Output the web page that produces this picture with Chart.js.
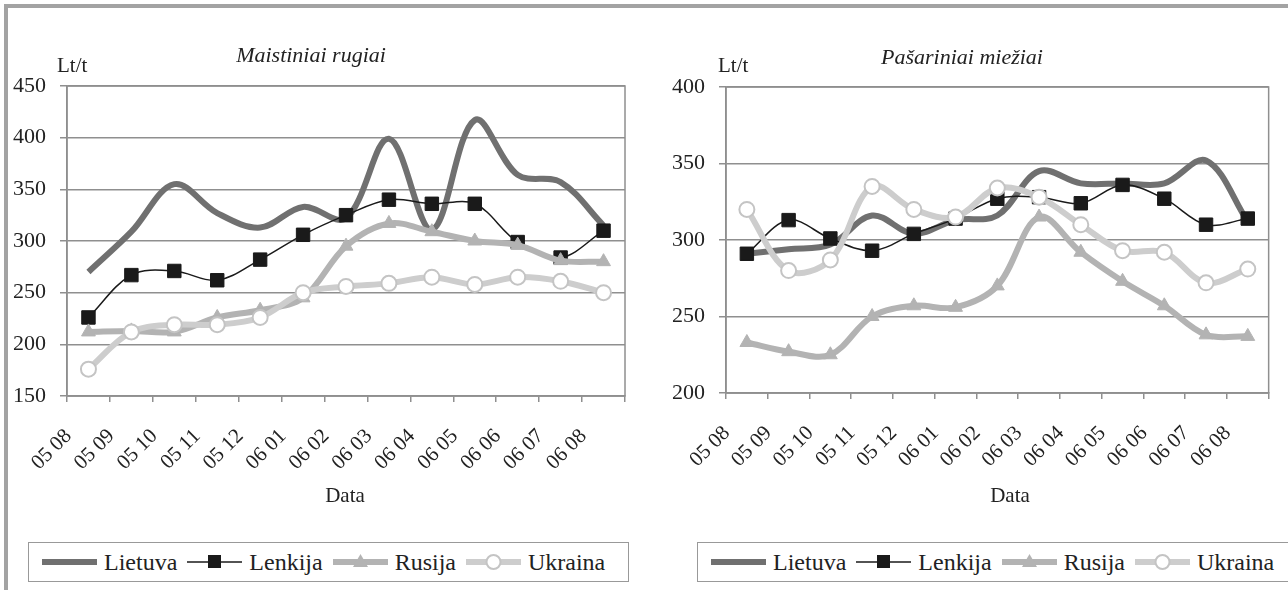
<!DOCTYPE html>
<html>
<head>
<meta charset="utf-8">
<script src="https://cdn.jsdelivr.net/npm/chart.js@4.4.1/dist/chart.umd.min.js"></script>
<style>
  html, body { margin: 0; padding: 0; background: #fff; }
  body { width: 1288px; height: 590px; position: relative; overflow: hidden; font-family: 'Liberation Serif', 'Times New Roman', serif; color: #222; }
  .frameTop { position: absolute; left: 4px; top: 4px; width: 1284px; height: 4px; background: #a3a3a3; }
  .frameLeft { position: absolute; left: 4px; top: 4px; width: 4px; height: 586px; background: #a3a3a3; }
  canvas { position: absolute; top: 0; }
  .title { position: absolute; font-style: italic; font-size: 22px; white-space: nowrap; transform: translate(-50%, -50%); }
  .unit { position: absolute; font-size: 21px; white-space: nowrap; transform: translateY(-50%); }
  .axisTitle { position: absolute; font-size: 21px; transform: translate(-50%, -50%); }
  .legend { position: absolute; top: 542px; height: 40px; border: 1.5px solid #999; display: flex; align-items: center; padding-left: 13px; box-sizing: border-box; gap: 10px; font-size: 24px; }
  .legend .item { display: flex; align-items: center; gap: 7px; }
  .legend svg { display: block; }
</style>
</head>
<body>
<div class="frameTop"></div>
<div class="frameLeft"></div>

<canvas id="rye" width="645" height="520" style="left:0"></canvas>
<canvas id="barley" width="638" height="520" style="left:650px"></canvas>

<div class="title" style="left:311px;top:55px">Maistiniai rugiai</div>
<div class="unit" style="left:57px;top:65px">Lt/t</div>
<div class="axisTitle" style="left:345px;top:495px">Data</div>

<div class="title" style="left:962px;top:57px">Pašariniai miežiai</div>
<div class="unit" style="left:718px;top:65px">Lt/t</div>
<div class="axisTitle" style="left:1010px;top:495px">Data</div>

<div class="legend" id="legendRye" style="left:28px;width:601px"></div>
<div class="legend" id="legendBarley" style="left:697px;width:600px"></div>

<script>
// months
const labels = ['05 08', '05 09', '05 10', '05 11', '05 12', '06 01', '06 02', '06 03', '06 04', '06 05', '06 06', '06 07', '06 08'];
const seriesNames = ['Lietuva', 'Lenkija', 'Rusija', 'Ukraina'];

// Maistiniai rugiai, Lt/t
const ryeLietuva = [270, 309, 355, 327, 313, 333, 322, 399, 311, 417, 364, 357, 315];
const ryeLenkija = [226, 267, 271, 262, 282, 306, 325, 340, 336, 336, 299, 284, 310];
const ryeRusija = [212, 213, 212, 226, 233, 245, 295, 317, 309, 300, 296, 281, 280];
const ryeUkraina = [176, 212, 219, 219, 226, 250, 256, 259, 265, 258, 265, 261, 250];
const ryeTicks = [150, 200, 250, 300, 350, 400, 450];

// Pašariniai miežiai, Lt/t
const barleyLietuva = [291, 294, 297, 316, 304, 313, 316, 345, 337, 337, 337, 352, 312];
const barleyLenkija = [291, 313, 301, 293, 304, 314, 327, 328, 324, 336, 327, 310, 314];
const barleyRusija = [233, 227, 225, 250, 257, 256, 270, 315, 292, 273, 257, 238, 237];
const barleyUkraina = [320, 280, 287, 335, 320, 315, 334, 328, 310, 293, 292, 272, 281];
const barleyTicks = [200, 250, 300, 350, 400];

const styles = [
    { color: '#707070', width: 6, point: false, radius: 0, fill: '#707070', order: 4 },
    { color: '#1a1a1a', width: 1.5, point: 'rect', radius: 9.5, fill: '#1a1a1a', order: 3 },
    { color: '#b3b3b3', width: 6, point: 'triangle', radius: 8, fill: '#b3b3b3', order: 2 },
    { color: '#cdcdcd', width: 6, point: 'circle', radius: 7.5, fill: '#ffffff', order: 1 }
];

const gridColor = '#8f8f8f';
const serif = "'Liberation Serif', 'Times New Roman', serif";

// gray frame round the plot area
const plotBorder = {
    id: 'plotBorder',
    beforeDatasetsDraw(chart) {
        const a = chart.chartArea;
        const ctx = chart.ctx;
        ctx.save();
        ctx.strokeStyle = gridColor;
        ctx.lineWidth = 1.5;
        ctx.strokeRect(a.left, a.top, a.right - a.left, a.bottom - a.top);
        ctx.restore();
    }
};

function makeChart(id, values, ticks, pad, yWidth, xHeight) {
    const datasets = values.map((vals, i) => {
        const s = styles[i];
        return {
            label: seriesNames[i],
            data: vals,
            borderColor: s.color,
            borderWidth: s.width,
            tension: 0.35,
            pointStyle: s.point,
            pointRadius: s.radius,
            pointBackgroundColor: s.fill,
            pointBorderColor: i == 3 ? '#c4c4c4' : s.color,
            pointBorderWidth: i == 3 ? 2 : 1,
            order: s.order,
            fill: false
        };
    });
    return new Chart(document.getElementById(id), {
        type: 'line',
        data: { labels: labels, datasets: datasets },
        options: {
            responsive: false,
            animation: false,
            devicePixelRatio: 1,
            layout: { padding: pad },
            plugins: { legend: { display: false }, tooltip: { enabled: false } },
            scales: {
                x: {
                    offset: true,
                    grid: { display: true, offset: true, drawOnChartArea: false, drawTicks: true, tickLength: 6, color: gridColor, lineWidth: 1.5 },
                    border: { display: true, color: gridColor, width: 1.5 },
                    ticks: { autoSkip: false, minRotation: 45, maxRotation: 45, padding: 22, labelOffset: -20, color: '#222', font: { family: serif, size: 21 } },
                    afterFit(scale) { scale.height = xHeight; }
                },
                y: {
                    min: ticks[0],
                    max: ticks[ticks.length - 1],
                    afterBuildTicks(scale) { scale.ticks = ticks.map(v => ({ value: v })); },
                    grid: { color: gridColor, lineWidth: 1.5, drawTicks: true, tickLength: 7 },
                    border: { display: true, color: gridColor, width: 1.5 },
                    ticks: { padding: 14, color: '#222', font: { family: serif, size: 22 } },
                    afterFit(scale) { scale.width = yWidth; }
                }
            }
        },
        plugins: [plotBorder]
    });
}

makeChart('rye', [ryeLietuva, ryeLenkija, ryeRusija, ryeUkraina], ryeTicks,
    { left: 0, top: 86, right: 20, bottom: 0 }, 67, 124);
makeChart('barley', [barleyLietuva, barleyLenkija, barleyRusija, barleyUkraina], barleyTicks,
    { left: 0, top: 87, right: 10, bottom: 0 }, 76, 127);

// legend: line sample + marker + name
function sample(i) {
    const s = styles[i];
    let marker = '';
    if (s.point === 'rect') marker = '<rect x="21" y="3" width="13" height="13" fill="' + s.fill + '"/>';
    if (s.point === 'triangle') marker = '<polygon points="27.5,2 35,15 20,15" fill="' + s.fill + '"/>';
    if (s.point === 'circle') marker = '<circle cx="27.5" cy="10" r="7" fill="#fff" stroke="#c4c4c4" stroke-width="2"/>';
    return '<svg width="55" height="20"><line x1="0" y1="10" x2="55" y2="10" stroke="' + s.color +
        '" stroke-width="' + s.width + '"/>' + marker + '</svg>';
}
function fillLegend(id) {
    const el = document.getElementById(id);
    seriesNames.forEach((name, i) => {
        const item = document.createElement('div');
        item.className = 'item';
        item.innerHTML = sample(i) + '<span>' + name + '</span>';
        el.appendChild(item);
    });
}
fillLegend('legendRye');
fillLegend('legendBarley');
</script>
</body>
</html>
